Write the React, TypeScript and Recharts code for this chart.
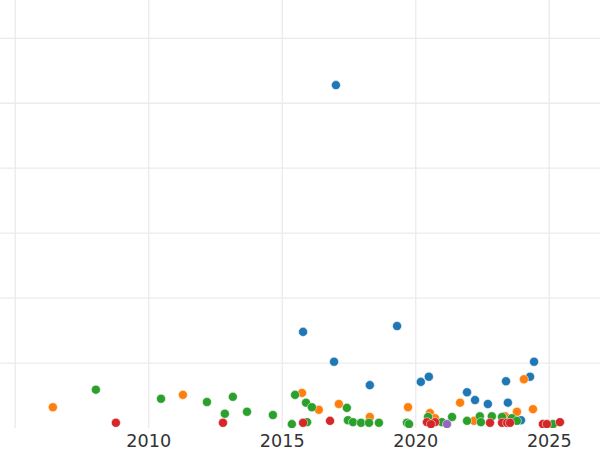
import { ScatterChart, Scatter, XAxis, YAxis, ZAxis, CartesianGrid } from "recharts";

// values (year, value); y labels are cut off, grid step = 100
const blueYears = [2017.01, 2015.78, 2019.3, 2016.94, 2018.28, 2020.19, 2020.49, 2021.92, 2022.22, 2022.7, 2023.38, 2023.45, 2024.28, 2024.43, 2023.94];
const blueValues = [528, 148, 157, 102, 66, 71, 79, 55, 43, 37, 72, 39, 79, 102, 12];

const orangeYears = [2006.41, 2011.28, 2015.74, 2016.37, 2017.12, 2018.28, 2019.71, 2020.53, 2020.72, 2021.66, 2022.18, 2023.34, 2023.79, 2024.05, 2024.39];
const orangeValues = [32, 51, 54, 28, 37, 17, 32, 23, 15, 39, 11, 18, 25, 75, 29];

const greenYears = [2008.02, 2010.46, 2012.18, 2013.15, 2012.85, 2013.68, 2014.65, 2015.36, 2015.48, 2015.89, 2016.11, 2015.93, 2017.42, 2017.46, 2017.65, 2017.95, 2018.25, 2018.62, 2019.67, 2019.75, 2020.46, 2020.98, 2021.36, 2021.92, 2022.4, 2022.44, 2022.85, 2023.23, 2023.6, 2023.79, 2025.14];
const greenValues = [59, 45, 40, 48, 22, 25, 20, 6, 51, 39, 32, 9, 31, 12, 9, 8, 8, 8, 8, 6, 17, 9, 17, 11, 18, 9, 18, 17, 15, 11, 6];

const redYears = [2008.77, 2012.78, 2015.78, 2016.79, 2020.42, 2020.72, 2020.57, 2022.78, 2023.23, 2023.42, 2023.53, 2024.76, 2024.91, 2025.4];
const redValues = [8, 8, 8, 11, 9, 9, 6, 8, 8, 8, 8, 6, 6, 9];

const purpleYears = [2021.17];
const purpleValues = [6];

const xTicks = [2005, 2010, 2015, 2020, 2025];
const yTicks = [100, 200, 300, 400, 500, 600];

const toPoints = (xs: number[], ys: number[]) => xs.map((x, i) => ({ year: x, value: ys[i] }));

const series = [
  { name: "blue", color: "#1f77b4", data: toPoints(blueYears, blueValues) },
  { name: "orange", color: "#ff7f0e", data: toPoints(orangeYears, orangeValues) },
  { name: "green", color: "#2ca02c", data: toPoints(greenYears, greenValues) },
  { name: "red", color: "#d62728", data: toPoints(redYears, redValues) },
  { name: "purple", color: "#9467bd", data: toPoints(purpleYears, purpleValues) },
];

const GRID = "#ebebeb";

// grid lines, skipping the ones recharts puts on the plot's edges (the reference has no spines)
function GridLine(p: any) {
  const onEdge =
    p.y1 === p.y2
      ? p.y1 <= p.y + 0.5 || p.y1 >= p.y + p.height - 0.5
      : p.x1 <= p.x + 0.5 || p.x1 >= p.x + p.width - 0.5;
  if (onEdge) return <g key={`edge-${p.index}-${p.x1}-${p.y1}`} />;
  return (
    <line
      key={`grid-${p.index}-${p.x1}-${p.y1}`}
      x1={p.x1}
      y1={p.y1}
      x2={p.x2}
      y2={p.y2}
      stroke={GRID}
      strokeWidth={1.3}
      fill="none"
    />
  );
}

export default function App() {
  return (
    <div style={{ position: "absolute", left: 0, top: 0, background: "#fff" }}>
      <ScatterChart width={600} height={450} margin={{ top: 0, right: 0, bottom: 0, left: 0 }}>
        <CartesianGrid stroke={GRID} horizontal={GridLine} vertical={GridLine} />
        <XAxis
          type="number"
          dataKey="year"
          domain={[2004.43, 2026.9]}
          ticks={xTicks}
          interval={0}
          height={22}
          axisLine={false}
          tickLine={false}
          tickSize={0}
          tickMargin={7}
          tickFormatter={(v) => (v === 2005 ? "" : String(v))}
          tick={{ fill: "#333", fontSize: 17.6, fontFamily: "DejaVu Sans" }}
        />
        <YAxis
          type="number"
          dataKey="value"
          domain={[0, 659]}
          ticks={yTicks}
          allowDataOverflow
          width={0}
          tick={{ fill: "transparent", fontSize: 1 }}
          axisLine={false}
          tickLine={false}
        />
        <ZAxis range={[85, 85]} />
        {series.map((s) => (
          <Scatter
            key={s.name}
            name={s.name}
            data={s.data}
            fill={s.color}
            stroke="#fff"
            strokeWidth={0.5}
            isAnimationActive={false}
          />
        ))}
      </ScatterChart>
    </div>
  );
}
